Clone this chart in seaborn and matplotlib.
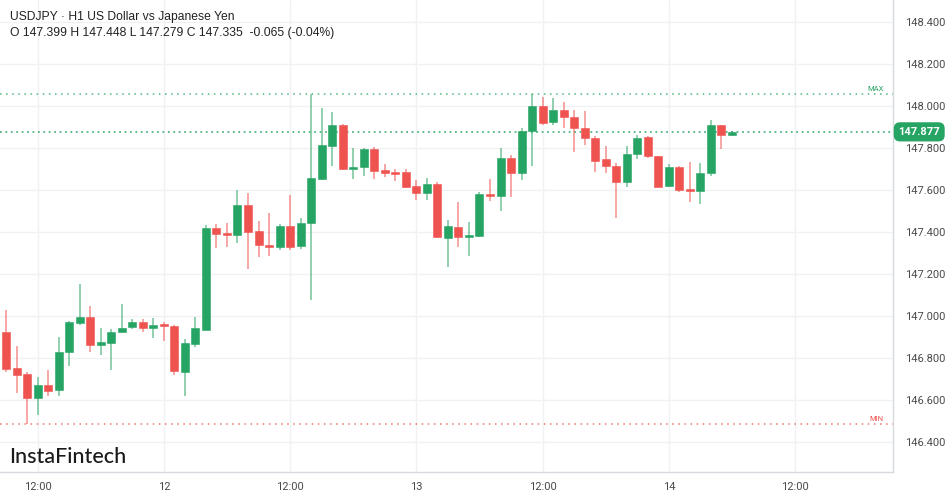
import numpy as np
import pandas as pd
import matplotlib
matplotlib.use("Agg")
import matplotlib.pyplot as plt
import seaborn as sns

# hourly USDJPY candles, first one is 11th 09:00
opens = [146.924, 146.752, 146.724, 146.610, 146.671, 146.648, 146.829, 146.967, 146.995, 146.862,
         146.871, 146.924, 146.948, 146.971, 146.943, 146.962, 146.952, 146.733, 146.867, 146.933,
         147.419, 147.395, 147.386, 147.529, 147.405, 147.338, 147.329, 147.429, 147.333, 147.443,
         147.652, 147.810, 147.910, 147.700, 147.710, 147.795, 147.695, 147.686, 147.686, 147.619,
         147.586, 147.629, 147.371, 147.424, 147.376, 147.381, 147.581, 147.571, 147.752, 147.681,
         147.881, 148.000, 147.924, 147.981, 147.948, 147.895, 147.848, 147.748, 147.714, 147.638,
         147.771, 147.852, 147.762, 147.619, 147.710, 147.605, 147.595, 147.681, 147.910, 147.862]
highs = [147.029, 146.857, 146.733, 146.710, 146.743, 146.900, 146.975, 147.152, 147.048, 146.943,
         146.938, 147.057, 146.986, 146.986, 146.990, 146.971, 146.957, 146.890, 146.995, 147.433,
         147.438, 147.443, 147.600, 147.586, 147.452, 147.490, 147.438, 147.576, 147.467, 148.057,
         147.990, 147.971, 147.914, 147.800, 147.800, 147.805, 147.724, 147.700, 147.700, 147.648,
         147.657, 147.638, 147.457, 147.543, 147.448, 147.590, 147.652, 147.800, 147.767, 147.895,
         148.057, 148.043, 148.038, 148.019, 147.981, 147.976, 147.857, 147.810, 147.729, 147.810,
         147.862, 147.857, 147.762, 147.724, 147.714, 147.733, 147.729, 147.933, 147.910, 147.881]
lows = [146.733, 146.633, 146.486, 146.529, 146.619, 146.619, 146.762, 146.957, 146.829, 146.814,
        146.743, 146.924, 146.938, 146.924, 146.895, 146.881, 146.719, 146.619, 146.852, 146.933,
        147.324, 147.329, 147.348, 147.224, 147.281, 147.286, 147.314, 147.314, 147.319, 147.076,
        147.648, 147.714, 147.695, 147.652, 147.667, 147.652, 147.662, 147.643, 147.610, 147.552,
        147.552, 147.371, 147.233, 147.329, 147.286, 147.376, 147.548, 147.500, 147.567, 147.648,
        147.714, 147.910, 147.910, 147.895, 147.781, 147.814, 147.686, 147.681, 147.467, 147.614,
        147.748, 147.752, 147.614, 147.614, 147.590, 147.543, 147.533, 147.667, 147.795, 147.857]
closes = [146.748, 146.719, 146.610, 146.671, 146.643, 146.829, 146.971, 146.995, 146.862, 146.876,
          146.924, 146.943, 146.971, 146.943, 146.957, 146.952, 146.738, 146.871, 146.943, 147.419,
          147.390, 147.386, 147.529, 147.400, 147.338, 147.329, 147.429, 147.329, 147.443, 147.657,
          147.814, 147.910, 147.700, 147.710, 147.795, 147.690, 147.681, 147.676, 147.614, 147.586,
          147.629, 147.376, 147.429, 147.376, 147.386, 147.581, 147.571, 147.752, 147.681, 147.881,
          148.000, 147.919, 147.981, 147.948, 147.895, 147.848, 147.738, 147.714, 147.638, 147.771,
          147.848, 147.762, 147.614, 147.710, 147.600, 147.595, 147.681, 147.910, 147.862, 147.877]

tick_hours = [3, 15, 27, 39, 51, 63, 75]
tick_labels = ["12:00", "12", "12:00", "13", "12:00", "14", "12:00"]
price_ticks = [146.4, 146.6, 146.8, 147.0, 147.2, 147.4, 147.6, 147.8, 148.0, 148.2, 148.4]

title_line = "USDJPY \u00b7 H1 US Dollar vs Japanese Yen"
ohlc_line = "O 147.399 H 147.448 L 147.279 C 147.335  -0.065 (-0.04%)"
last_price = 147.877

GREEN = "#26a464"
RED = "#ef5350"

df = pd.DataFrame({"open": opens, "high": highs, "low": lows, "close": closes})
df["hour"] = np.arange(len(df))
df["up"] = df["close"] >= df["open"]
df["color"] = np.where(df["up"], GREEN, RED)

sns.set_theme(style="white")
plt.rcParams["font.family"] = ["Roboto", "DejaVu Sans"]

fig = plt.figure(figsize=(9.49, 4.94), dpi=100)
ax = fig.add_axes([0.0, 22 / 494, 893 / 949, 472 / 494])

# grid
for p in price_ticks:
    ax.axhline(p, color="#f0f1f3", lw=1, zorder=0)
for h in tick_hours:
    ax.axvline(h, color="#f0f1f3", lw=1, zorder=0)

# wicks
ax.vlines(df["hour"], df["low"], df["high"], colors=df["color"], lw=1.3, alpha=0.55, zorder=2)

# bodies
body_low = df[["open", "close"]].min(axis=1)
body_h = (df["open"] - df["close"]).abs().clip(lower=0.008)
ax.bar(df["hour"], body_h, bottom=body_low, width=0.76, color=df["color"],
       edgecolor=df["color"], linewidth=0.4, zorder=3)

# max / min / last lines
hi = df["high"].max()
lo = df["low"].min()
ax.axhline(hi, color=GREEN, lw=1.1, ls=(0, (1, 3)), alpha=0.8, zorder=1)
ax.axhline(lo, color=RED, lw=1.1, ls=(0, (1, 3)), alpha=0.8, zorder=1)
ax.axhline(last_price, color=GREEN, lw=1.3, ls=(0, (1, 2)), alpha=0.8, zorder=1)
ax.text(83.4, hi + 0.008, "MAX", color=GREEN, fontsize=5.5, ha="right", va="bottom")
ax.text(83.4, lo + 0.008, "MIN", color=RED, fontsize=5.5, ha="right", va="bottom")

ax.set_xlim(-0.57, 84.3)
ax.set_ylim(146.257, 148.505)

ax.yaxis.tick_right()
ax.set_yticks(price_ticks)
ax.set_yticklabels([f"{p:.3f}" for p in price_ticks])
ax.set_xticks(tick_hours)
ax.set_xticklabels(tick_labels)
ax.tick_params(axis="both", length=0, labelsize=8, labelcolor="#4a4a4a", pad=9)
ax.tick_params(axis="x", pad=7)

for side in ["top", "left"]:
    ax.spines[side].set_visible(False)
ax.spines["right"].set_color("#d6dadf")
ax.spines["bottom"].set_color("#d6dadf")
ax.spines["right"].set_linewidth(1)
ax.spines["bottom"].set_linewidth(1)

# last price tag
ax.text(1.006, last_price, f"{last_price:.3f}", transform=ax.get_yaxis_transform(),
        color="white", fontsize=8, fontweight="bold", ha="left", va="center", zorder=5,
        bbox=dict(boxstyle="round,pad=0.35,rounding_size=0.5", fc=GREEN, ec=GREEN))

# header and logo
head_font = ["Liberation Sans", "DejaVu Sans"]
fig.text(10 / 949, 1 - 17 / 494, title_line, fontsize=8.7, color="#222222", va="center",
         family=head_font)
fig.text(10 / 949, 1 - 33 / 494, ohlc_line, fontsize=8.7, color="#222222", va="center",
         family=head_font)
fig.text(9 / 949, 1 - 457 / 494, "InstaFintech", fontsize=15.5, color="#1a1a1a",
         va="center", family=["Lato", "DejaVu Sans"], fontweight="medium")

fig.savefig("out.png", dpi=100, facecolor="white")
